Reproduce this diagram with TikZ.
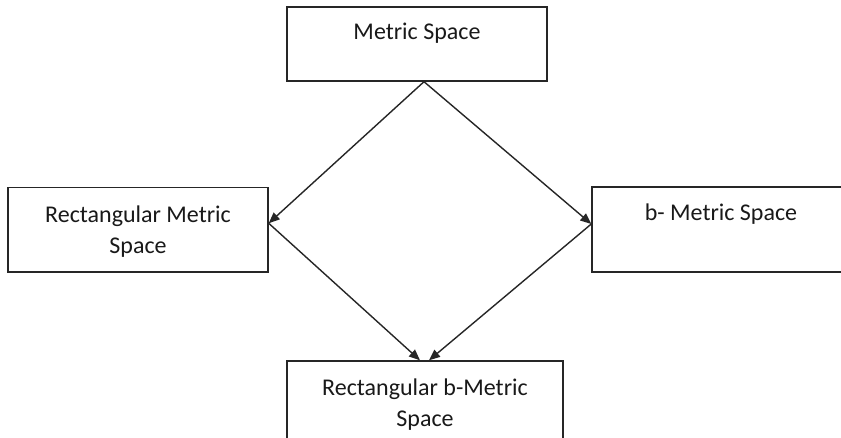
\documentclass[tikz,border=0pt]{standalone}
\usepackage{fontspec}
\setmainfont{Carlito}
\usetikzlibrary{arrows.meta,calc}
\begin{document}
\begin{tikzpicture}[x=1pt,y=1pt,
  box/.style={draw=black!85,line width=1.4pt,rectangle,inner sep=0pt},
  lbl/.style={font=\fontsize{24}{31}\selectfont,text=black!90,align=center,inner sep=0pt,anchor=base},
  conn/.style={draw=black!85,line width=1.4pt,-{Triangle[length=11pt,width=9pt]},shorten >=0pt}
]
\useasboundingbox (0,0) rectangle (841,-437);
\begin{scope}
\clip (0,0) rectangle (841,-437);
\node[box,minimum width=260pt,minimum height=74pt] (m) at (417,-44) {};
\node[box,minimum width=260pt,minimum height=84.5pt] (r) at (138,-229.75) {};
\node[box,minimum width=258pt,minimum height=85pt] (b) at (721,-229.5) {};
\node[box,minimum width=276pt,minimum height=89pt] (rb) at (425,-405.5) {};
\end{scope}
\node[lbl] (mt) at (417,-39) {Metric Space};
\node[lbl] (rt) at (138,-253) {Rectangular Metric\\Space};
\node[lbl] (bt) at (721,-220) {b- Metric Space};
\node[lbl] (rbt) at (425,-426.7) {Rectangular b-Metric\\Space};
\coordinate (apex) at ([xshift=7pt]m.south);
\coordinate (rin) at ([yshift=6.5pt]r.east);
\coordinate (bin) at ([yshift=5.5pt]b.west);
\draw[conn] (apex) -- (rin);
\draw[conn] (apex) -- (bin);
\draw[conn] (rin) -- ([xshift=-5pt]rb.north);
\draw[conn] (bin) -- ([xshift=4pt]rb.north);
\end{tikzpicture}
\end{document}
